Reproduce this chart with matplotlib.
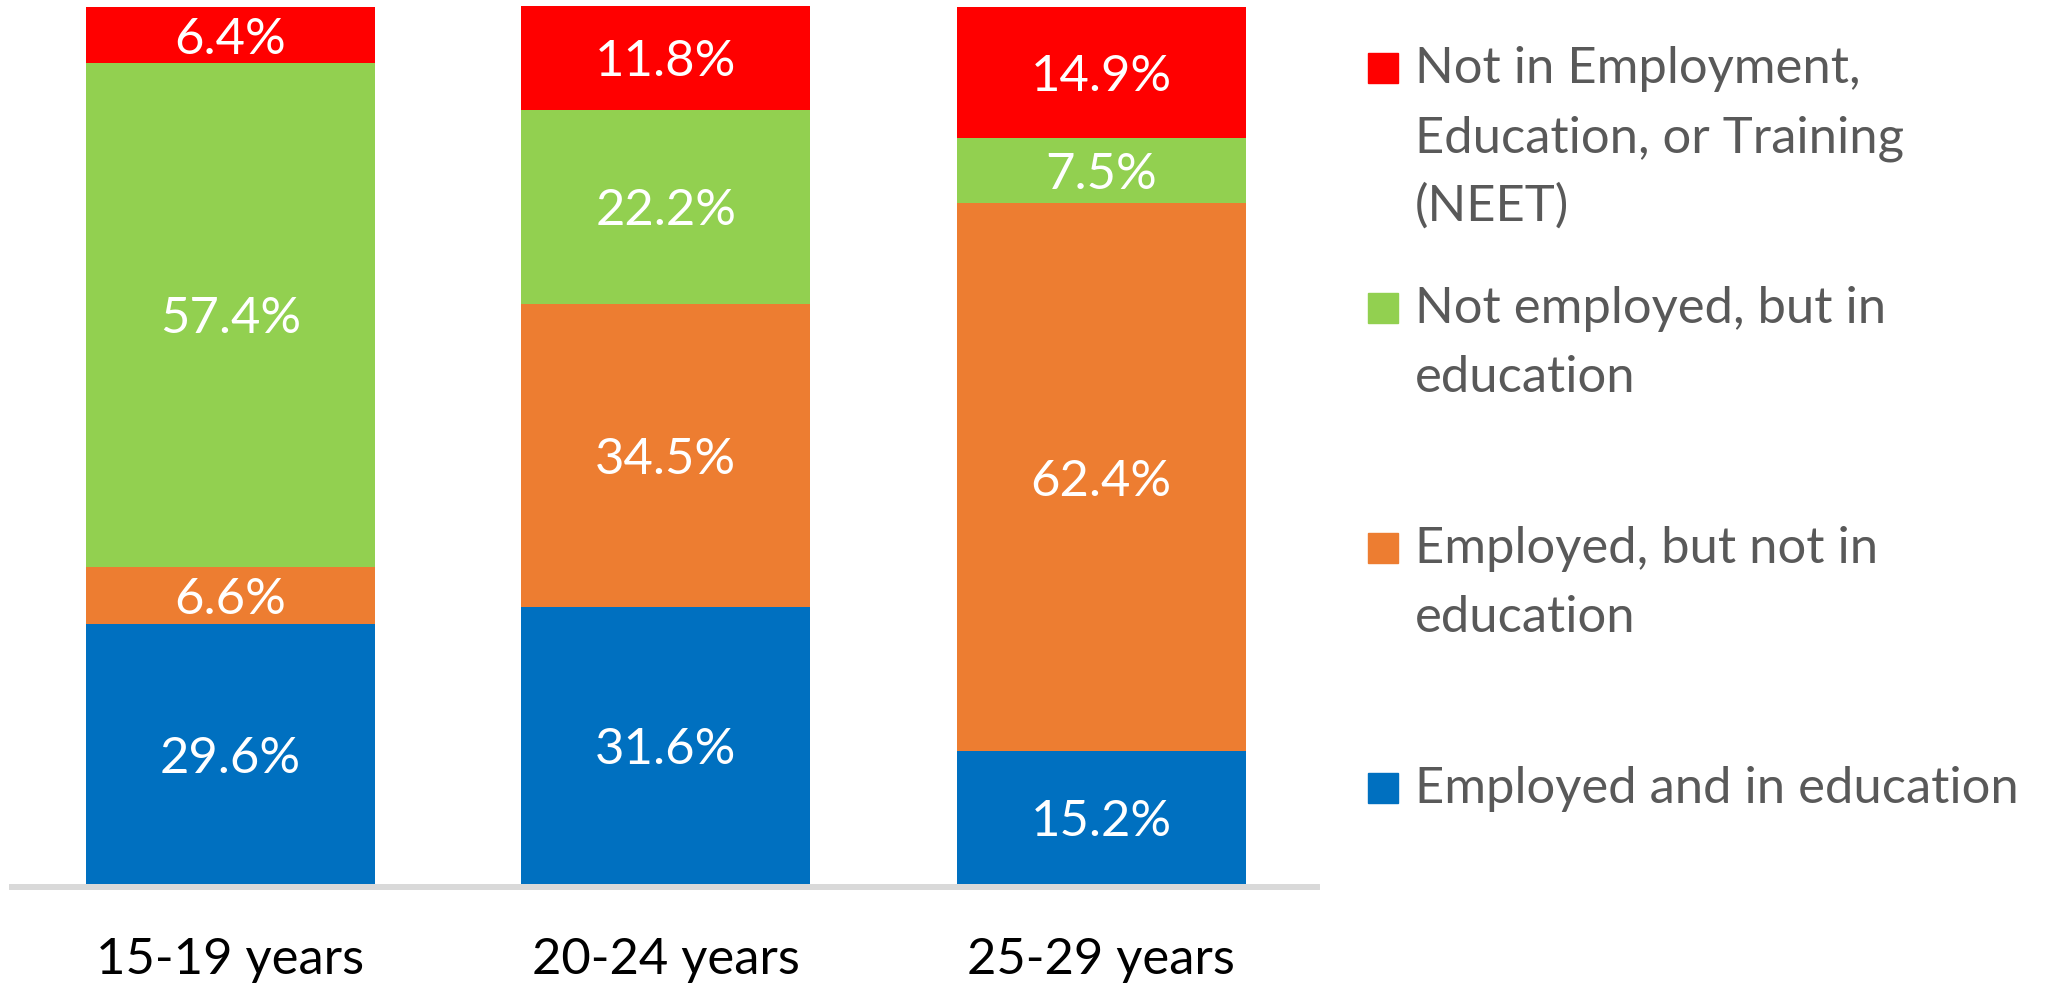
"""Youth activity status by age group, stacked 100% bars."""

import matplotlib

matplotlib.use("Agg")
import matplotlib.pyplot as plt
from matplotlib.patches import Rectangle

plt.rcParams["font.family"] = ["Lato", "DejaVu Sans"]

AGE_GROUPS = ["15-19 years", "20-24 years", "25-29 years"]

# bottom to top
EMPLOYED_IN_EDU = [29.6, 31.6, 15.2]
EMPLOYED_NOT_EDU = [6.6, 34.5, 62.4]
NOT_EMPLOYED_IN_EDU = [57.4, 22.2, 7.5]
NEET = [6.4, 11.8, 14.9]

SERIES = [
    ("Employed and in education", EMPLOYED_IN_EDU, "#0070C0"),
    ("Employed, but not in\neducation", EMPLOYED_NOT_EDU, "#ED7D31"),
    ("Not employed, but in\neducation", NOT_EMPLOYED_IN_EDU, "#92D050"),
    ("Not in Employment,\nEducation, or Training\n(NEET)", NEET, "#FF0000"),
]

W, H = 2048, 984
FS = 36.5

fig = plt.figure(figsize=(W / 100, H / 100), dpi=100)
ax = fig.add_axes([12 / W, (H - 884) / H, (1317 - 12) / W, 884 / H])

x = list(range(len(AGE_GROUPS)))
bottom = [0.0] * len(x)
for label, values, color in SERIES:
    ax.bar(x, values, bottom=bottom, width=0.664, color=color, linewidth=0)
    for i, v in enumerate(values):
        ax.text(i, bottom[i] + v / 2, f"{v:.1f}%", ha="center", va="center_baseline",
                color="white", fontsize=FS)
    bottom = [b + v for b, v in zip(bottom, values)]

ax.set_xlim(-0.502, 2.496)
ax.set_ylim(0, 884 / 8.77)
ax.set_xticks(x, AGE_GROUPS)
ax.tick_params(axis="x", length=0, pad=36, labelsize=FS, labelcolor="black")
ax.set_yticks([])
for side in ["top", "left", "right"]:
    ax.spines[side].set_visible(False)
ax.spines["bottom"].set_color("#D9D9D9")
ax.spines["bottom"].set_linewidth(4.3)
ax.spines["bottom"].set_position(("outward", 2.2))

# legend drawn by hand, squares aligned with the first text line
for k, (label, values, color) in enumerate(reversed(SERIES)):
    base = 83 + 240 * k
    fig.patches.append(Rectangle((1368 / W, (H - base) / H), 30 / W, 30 / H,
                                 transform=fig.transFigure, color=color))
    for j, line in enumerate(label.split("\n")):
        fig.text(1415 / W, (H - base - 69 * j) / H, line, ha="left", va="baseline",
                 fontsize=FS, color="#595959")

fig.savefig("out.png", dpi=100)
